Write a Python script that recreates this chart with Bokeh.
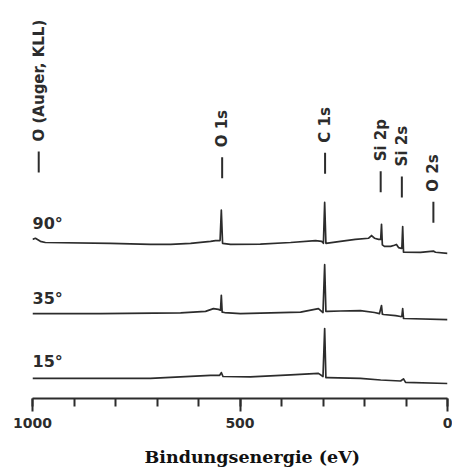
import math
from bokeh.plotting import figure
from bokeh.models import Range1d, FixedTicker, ColumnDataSource, Title
from bokeh.core.properties import value
from bokeh.embed import file_html
from bokeh.resources import INLINE

# ---- data ----
# binding energy (eV) and intensity (a.u., above each spectrum's baseline)
e90 = [1000, 993, 981, 969, 812, 716, 667, 619, 571, 559, 548, 545, 542, 523, 451, 378, 318, 303, 299, 296,
       293, 258, 222, 190, 183, 176, 166, 161, 159, 157, 152, 137, 128, 123, 118, 111, 110, 108, 106, 65,
       34, 29, 0]
i90 = [3.6, 3.9, 3.1, 2.8, 2.6, 2.3, 2.3, 2.6, 3.1, 3.3, 3.3, 11.1, 2.6, 2.3, 2.4, 2.8, 3.3, 3.1, 2.6, 13.1,
       2.6, 3.1, 3.6, 3.9, 4.6, 3.9, 3.6, 3.6, 7.5, 2.2, 1.8, 1.8, 2.1, 2.3, 1.5, 1.3, 1.3, 6.9, 0.3, 0.26,
       0.6, 0.3, 0.0]

e35 = [1000, 836, 643, 583, 564, 552, 547, 545, 543, 537, 499, 402, 354, 311, 300, 296, 293, 289, 258, 210,
       176, 164, 159, 157, 154, 125, 113, 110, 108, 106, 104, 0]
i35 = [1.5, 1.5, 1.7, 2.1, 2.8, 2.6, 2.4, 6.2, 1.9, 1.8, 1.5, 1.8, 1.9, 2.8, 1.8, 14.1, 2.1, 2.1, 2.2, 2.3,
       1.8, 1.5, 3.6, 1.4, 1.3, 1.0, 0.77, 0.8, 2.8, 0.3, 0.26, 0.0]

e15 = [1000, 716, 571, 549, 545, 541, 475, 378, 311, 300, 296, 293, 289, 210, 161, 113, 106, 101, 0]
i15 = [1.3, 1.3, 2.1, 2.1, 2.8, 1.8, 1.7, 2.2, 2.6, 1.8, 14.1, 1.5, 1.5, 1.3, 0.9, 0.64, 1.2, 0.3, 0.0]

angles = ["90°", "35°", "15°"]

peak_names = ["O (Auger, KLL)", "O 1s", "C 1s", "Si 2p", "Si 2s", "O 2s"]
peak_energy = [985, 543, 295, 161, 110, 34]
peak_height = [58.1, 56.6, 57.8, 53.0, 51.7, 45.2]

tick_major = [0, 500, 1000]
tick_minor = [0, 100, 200, 300, 400, 500, 600, 700, 800, 900, 1000]

x_title = "Bindungsenergie (eV)"

# ---- layout / style ----
offsets = [37.3, 20.3, 3.86]
angle_label_y = [45.0, 25.7, 9.5]
px_per_unit = 3.89
dash_len = 21 / px_per_unit
gap = 10 / px_per_unit
INK = "#2c2c2c"

p = figure(width=452, height=470, output_backend="svg", toolbar_location=None,
           x_range=Range1d(1000, 0), y_range=Range1d(0, 398 / px_per_unit),
           min_border_left=32, min_border_right=5, min_border_top=0, min_border_bottom=72,
           y_axis_location=None)
p.outline_line_color = None
p.xgrid.visible = False
p.ygrid.visible = False
p.background_fill_color = "white"

for e, i, off in zip([e90, e35, e15], [i90, i35, i15], offsets):
    p.line(e, [v + off for v in i], line_color=INK, line_width=1.7, line_join="round")

# angle labels
p.text(x=[1000] * 3, y=angle_label_y, text=angles, text_font=value("DejaVu Sans"),
       text_font_style="bold", text_font_size="16px", text_color=INK,
       text_align="left", text_baseline="alphabetic")

# peak markers and labels
p.segment(x0=peak_energy, y0=peak_height, x1=peak_energy,
          y1=[h + dash_len for h in peak_height], line_color=INK, line_width=2)
src = ColumnDataSource(dict(x=peak_energy, y=[h + dash_len + gap for h in peak_height], t=peak_names))
p.text(x="x", y="y", text="t", source=src, angle=math.pi / 2, text_font=value("DejaVu Sans"),
       text_font_style="bold", text_font_size="15px", text_color=INK,
       text_align="left", text_baseline="middle")

ax = p.xaxis[0]
ax.ticker = FixedTicker(ticks=tick_major, minor_ticks=tick_minor)
ax.axis_line_color = INK
ax.axis_line_width = 2
ax.major_tick_line_color = INK
ax.major_tick_line_width = 2
ax.minor_tick_line_color = INK
ax.minor_tick_line_width = 2
ax.major_tick_in = 0
ax.major_tick_out = 13
ax.minor_tick_in = 0
ax.minor_tick_out = 8
ax.major_label_text_font = "DejaVu Sans"
ax.major_label_text_font_style = "bold"
ax.major_label_text_font_size = "14px"
ax.major_label_text_color = INK
ax.major_label_standoff = 6

# thin spacer panel between tick labels and the axis title
spacer = Title(text=" ", text_font_size="1px", standoff=11)
p.add_layout(spacer, "below")
t = Title(text=x_title, align="left", offset=112, standoff=0,
          text_font="DejaVu Serif", text_font_style="bold", text_font_size="17.5px",
          text_color="#111111")
p.add_layout(t, "below")

open("out.html", "w").write(file_html(p, INLINE))
